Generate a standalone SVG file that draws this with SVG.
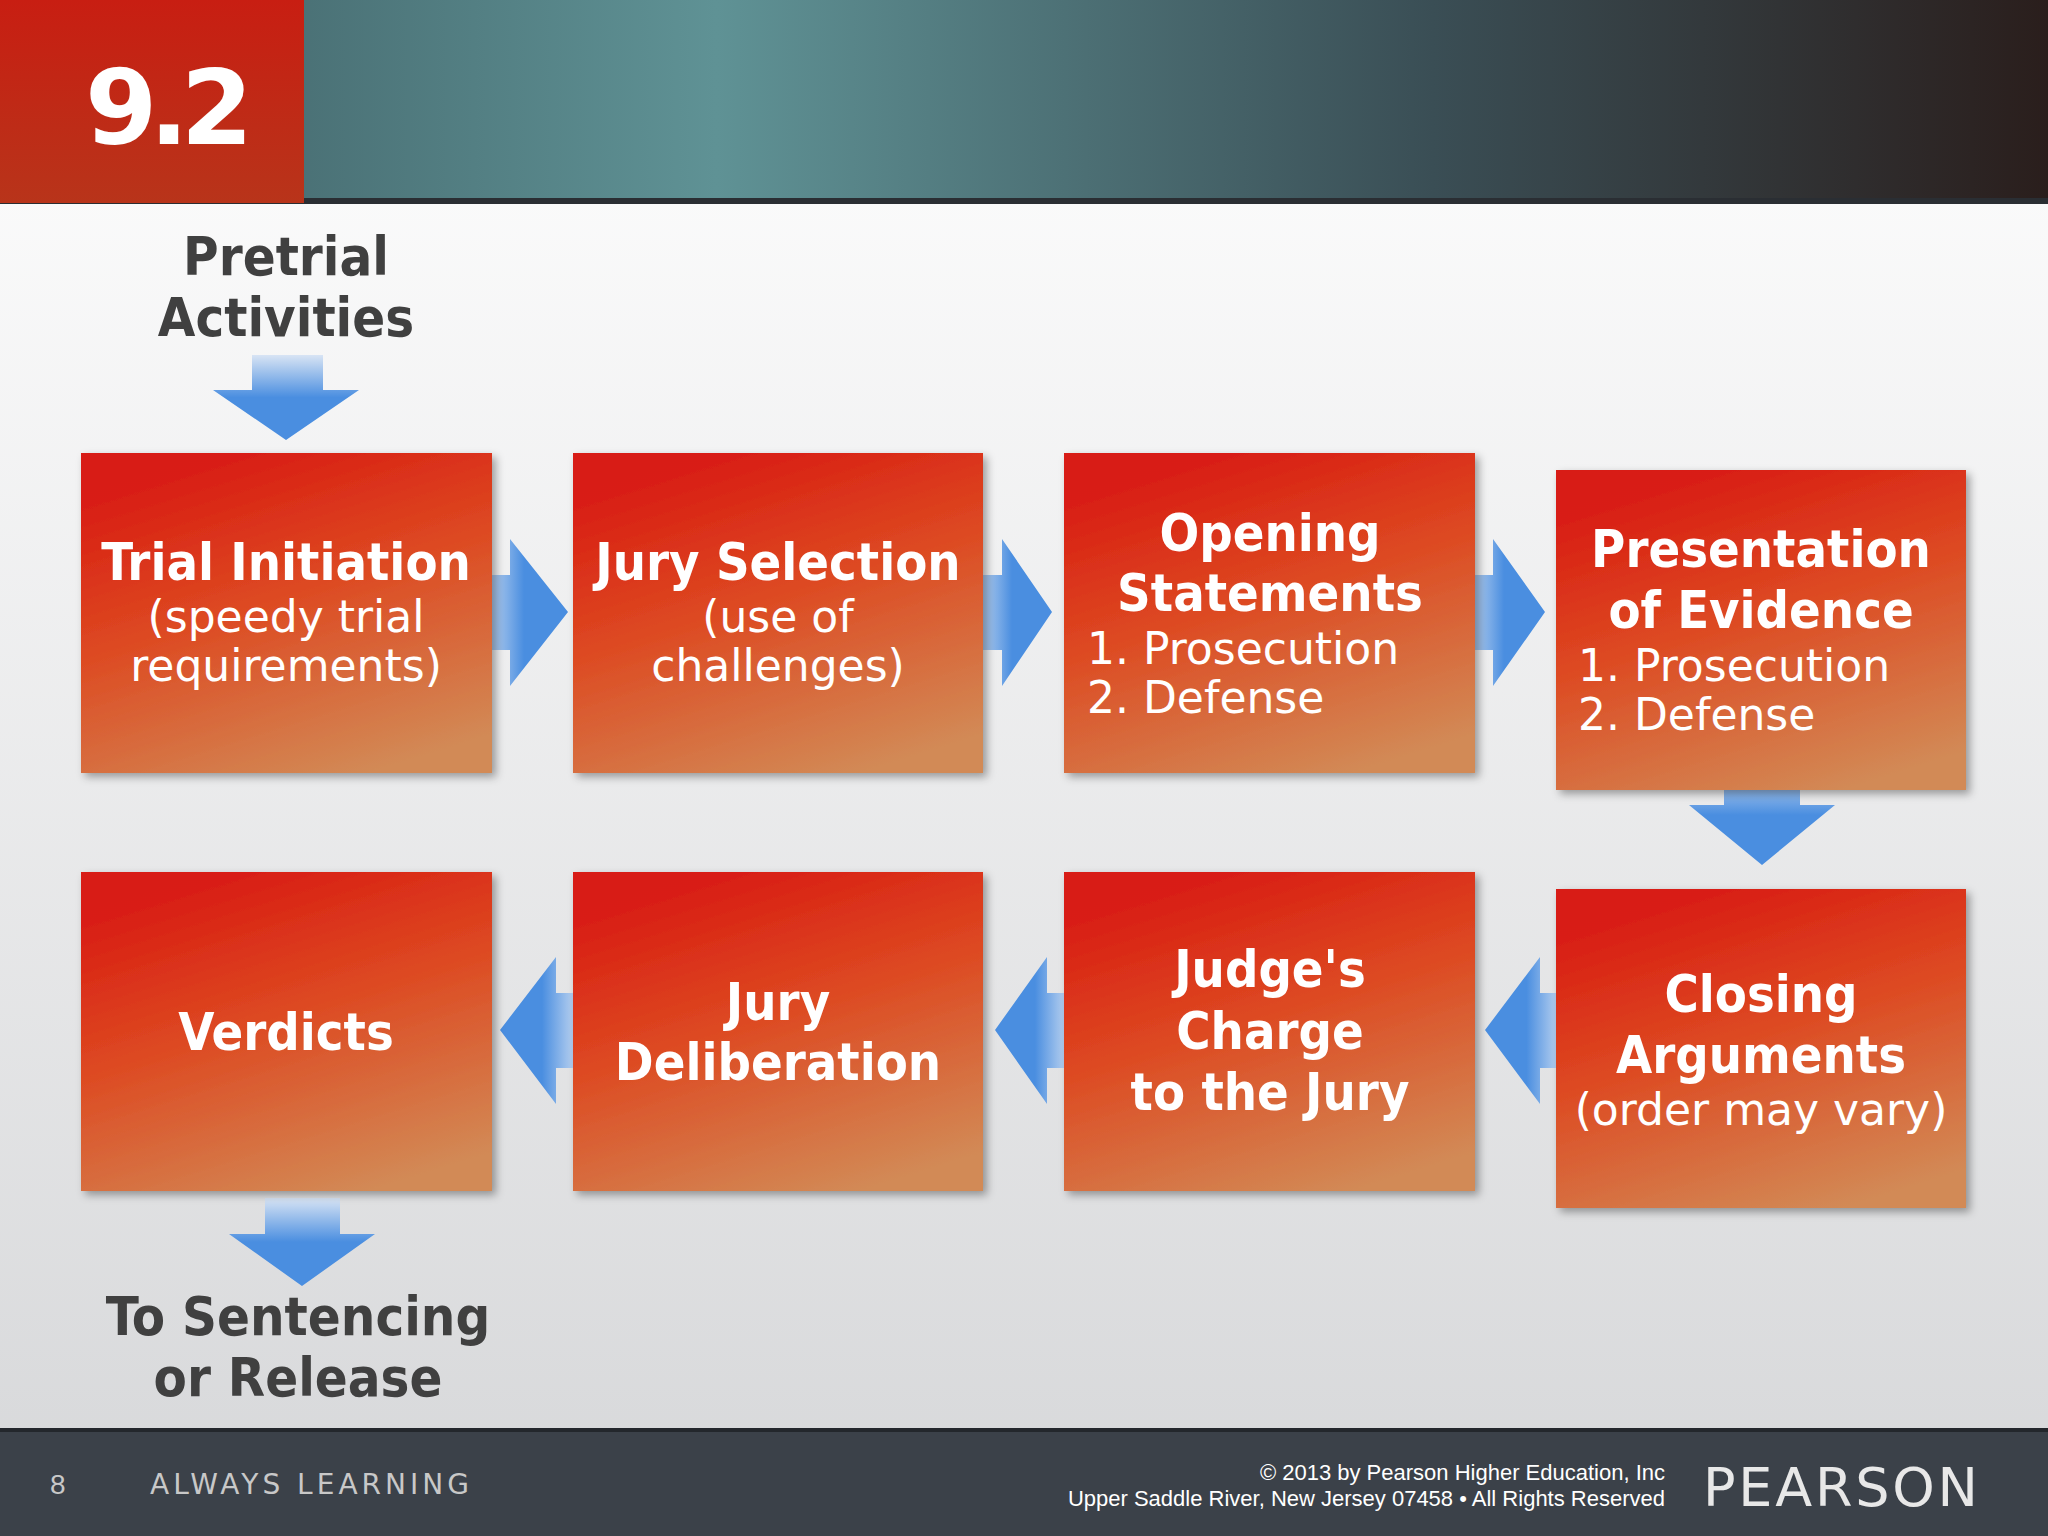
<svg xmlns="http://www.w3.org/2000/svg" width="2048" height="1536" viewBox="0 0 2048 1536">
<defs>
<linearGradient id="bg" x1="0" y1="0" x2="0" y2="1"><stop offset="0" stop-color="#ffffff"/><stop offset="1" stop-color="#d6d7d9"/></linearGradient>
<linearGradient id="hdr" x1="0" y1="0" x2="1" y2="0"><stop offset="0" stop-color="#3c5a60"/><stop offset="0.35" stop-color="#5f9295"/><stop offset="0.7" stop-color="#3a4e55"/><stop offset="1" stop-color="#2a1e1c"/></linearGradient>
<linearGradient id="red" x1="0" y1="0" x2="0" y2="1"><stop offset="0" stop-color="#c81e12"/><stop offset="1" stop-color="#b8341a"/></linearGradient>
<linearGradient id="box" x1="0.3" y1="0" x2="0.7" y2="1"><stop offset="0" stop-color="#d81a12"/><stop offset="0.45" stop-color="#dd4a22"/><stop offset="1" stop-color="#d28a56"/></linearGradient>
<linearGradient id="arH" x1="0" y1="0" x2="1" y2="0"><stop offset="0" stop-color="#d8e4f4"/><stop offset="0.5" stop-color="#4a8ee0"/><stop offset="1" stop-color="#4a8ee0"/></linearGradient>
<linearGradient id="arL" x1="1" y1="0" x2="0" y2="0"><stop offset="0" stop-color="#d8e4f4"/><stop offset="0.5" stop-color="#4a8ee0"/><stop offset="1" stop-color="#4a8ee0"/></linearGradient>
<linearGradient id="arD" x1="0" y1="0" x2="0" y2="1"><stop offset="0" stop-color="#d8e4f4"/><stop offset="0.5" stop-color="#4a8ee0"/><stop offset="1" stop-color="#4a8ee0"/></linearGradient>
<filter id="sh" x="-5%" y="-5%" width="115%" height="115%"><feDropShadow dx="4" dy="4" stdDeviation="4" flood-color="#000" flood-opacity="0.35"/></filter>
</defs>
<style>
.t{font-family:"DejaVu Sans Condensed","DejaVu Sans",sans-serif;font-stretch:condensed;font-weight:bold;fill:#fff;font-size:52px;text-anchor:middle}
.s{font-family:"DejaVu Sans",sans-serif;fill:#fff;font-size:44px;text-anchor:middle}
.l{font-family:"DejaVu Sans",sans-serif;fill:#fff;font-size:44px}
.g{font-family:"DejaVu Sans Condensed","DejaVu Sans",sans-serif;font-stretch:condensed;font-weight:bold;fill:#404040;font-size:54px;text-anchor:middle}
</style>
<rect width="2048" height="1536" fill="url(#bg)"/>
<g id="header">
<rect x="0" y="0" width="2048" height="203" fill="url(#hdr)"/>
<rect x="0" y="198" width="2048" height="6" fill="#2a2e33"/>
<rect x="0" y="0" width="304" height="203" fill="url(#red)"/>
<text x="85" y="144" font-family="DejaVu Sans,sans-serif" font-weight="bold" font-size="104" fill="#fff" letter-spacing="-8">9.2</text>
</g>
<g id="connectors">
<polygon points="252,355 323,355 323,390 359,390 286,440 213,390 252,390" fill="url(#arD)"/>
<polygon points="480,575 510,575 510,539 568,612 510,686 510,650 480,650" fill="url(#arH)"/>
<polygon points="972,575 1002,575 1002,539 1052,612 1002,686 1002,650 972,650" fill="url(#arH)"/>
<polygon points="1463,575 1493,575 1493,539 1545,612 1493,686 1493,650 1463,650" fill="url(#arH)"/>
<polygon points="1724,765 1800,765 1800,805 1835,805 1762,865 1689,805 1724,805" fill="url(#arD)"/>
<polygon points="1568,993 1540,993 1540,957 1485,1030 1540,1104 1540,1068 1568,1068" fill="url(#arL)"/>
<polygon points="1075,993 1047,993 1047,957 995,1030 1047,1104 1047,1068 1075,1068" fill="url(#arL)"/>
<polygon points="584,993 556,993 556,957 500,1030 556,1104 556,1068 584,1068" fill="url(#arL)"/>
<polygon points="265,1198 340,1198 340,1234 375,1234 302,1286 229,1234 265,1234" fill="url(#arD)"/>
</g>
<g id="pretrial"><text class="g" x="286" y="275">Pretrial</text><text class="g" x="286" y="336">Activities</text></g>
<g id="n1"><rect x="81" y="453" width="411" height="320" fill="url(#box)" filter="url(#sh)"/>
<text class="t" x="286" y="580">Trial Initiation</text><text class="s" x="286" y="632">(speedy trial</text><text class="s" x="286" y="681">requirements)</text></g>
<g id="n2"><rect x="573" y="453" width="410" height="320" fill="url(#box)" filter="url(#sh)"/>
<text class="t" x="778" y="580">Jury Selection</text><text class="s" x="778" y="632">(use of</text><text class="s" x="778" y="681">challenges)</text></g>
<g id="n3"><rect x="1064" y="453" width="411" height="320" fill="url(#box)" filter="url(#sh)"/>
<text class="t" x="1270" y="551">Opening</text><text class="t" x="1270" y="611">Statements</text><text class="l" x="1087" y="664">1. Prosecution</text><text class="l" x="1087" y="713">2. Defense</text></g>
<g id="n4"><rect x="1556" y="470" width="410" height="320" fill="url(#box)" filter="url(#sh)"/>
<text class="t" x="1761" y="567">Presentation</text><text class="t" x="1761" y="628">of Evidence</text><text class="l" x="1578" y="681">1. Prosecution</text><text class="l" x="1578" y="730">2. Defense</text></g>
<g id="n5"><rect x="1556" y="889" width="410" height="319" fill="url(#box)" filter="url(#sh)"/>
<text class="t" x="1761" y="1012">Closing</text><text class="t" x="1761" y="1073">Arguments</text><text class="s" x="1761" y="1125">(order may vary)</text></g>
<g id="n6"><rect x="1064" y="872" width="411" height="319" fill="url(#box)" filter="url(#sh)"/>
<text class="t" x="1270" y="987">Judge's</text><text class="t" x="1270" y="1049">Charge</text><text class="t" x="1270" y="1110">to the Jury</text></g>
<g id="n7"><rect x="573" y="872" width="410" height="319" fill="url(#box)" filter="url(#sh)"/>
<text class="t" x="778" y="1020">Jury</text><text class="t" x="778" y="1080">Deliberation</text></g>
<g id="n8"><rect x="81" y="872" width="411" height="319" fill="url(#box)" filter="url(#sh)"/>
<text class="t" x="286" y="1050">Verdicts</text></g>
<g id="sentencing"><text class="g" x="298" y="1335">To Sentencing</text><text class="g" x="298" y="1396">or Release</text></g>
<g id="footer">
<rect x="0" y="1430" width="2048" height="106" fill="#3b4149"/>
<rect x="0" y="1428" width="2048" height="4" fill="#23272c"/>
<text x="50" y="1494" font-family="Liberation Sans,sans-serif" font-size="28" fill="#c8c8c8">8</text>
<text x="150" y="1494" font-family="DejaVu Sans,sans-serif" font-size="28" fill="#c8c8c8" letter-spacing="4">ALWAYS LEARNING</text>
<text x="1665" y="1480" text-anchor="end" font-family="Liberation Sans,sans-serif" font-size="22" fill="#fff">© 2013 by Pearson Higher Education, Inc</text>
<text x="1665" y="1506" text-anchor="end" font-family="Liberation Sans,sans-serif" font-size="22" fill="#fff">Upper Saddle River, New Jersey 07458 • All Rights Reserved</text>
<text x="1703" y="1506" font-family="DejaVu Sans,sans-serif" font-size="54" fill="#e8e8e8" letter-spacing="3" textLength="278">PEARSON</text>
</g>
</svg>
